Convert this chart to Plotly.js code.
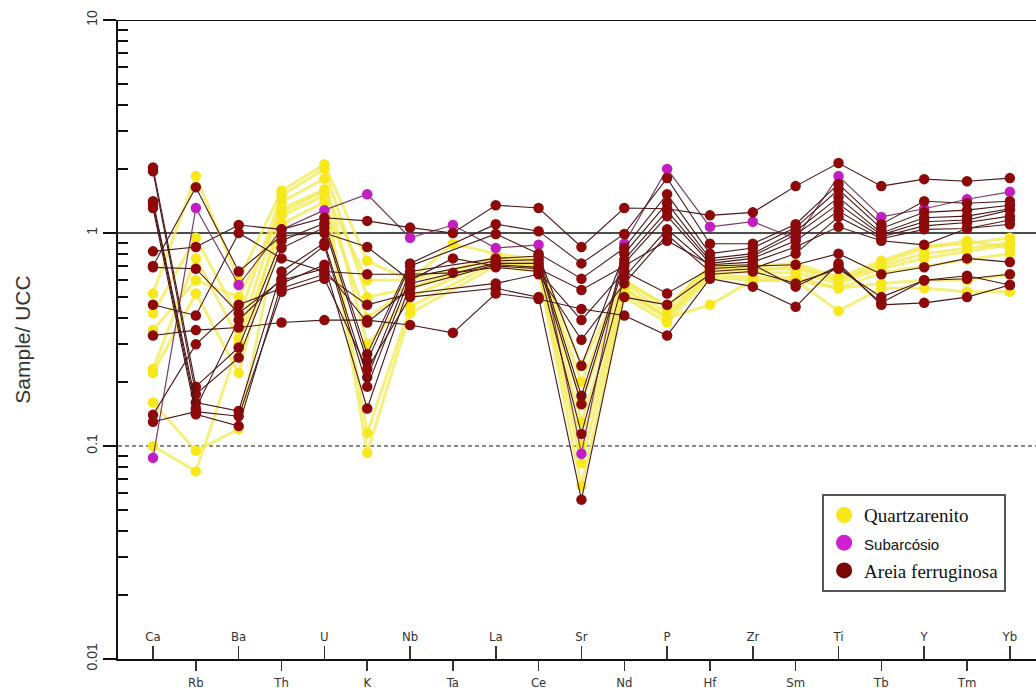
<!DOCTYPE html>
<html>
<head>
<meta charset="utf-8">
<script src="https://cdn.plot.ly/plotly-3.0.1.min.js"></script>
<style>html,body{margin:0;padding:0;background:#fff;}#chart{width:1036px;height:689px;}</style>
</head>
<body>
<div id="chart"></div>
<script>
// Elements (normalised to Upper Continental Crust)
const categories = ["Ca","Rb","Ba","Th","U","K","Nb","Ta","La","Ce","Sr","Nd","P","Hf","Zr","Sm","Ti","Tb","Y","Tm","Yb"];
const yTickValues = [0.01, 0.1, 1, 10];
const yTickLabels = ["0.01", "0.1", "1", "10"];

// Quartzarenito samples
const quartzarenito = [
  [0.52,1.85,0.60,1.58,2.10,0.74,0.60,0.89,0.80,0.75,0.24,0.60,0.45,0.70,0.70,0.72,0.62,0.74,0.87,0.89,0.95],
  [0.42,0.95,0.40,1.50,2.00,0.50,0.55,null,0.78,0.72,0.16,0.58,0.42,0.68,0.68,0.68,0.60,0.70,0.80,0.85,0.90],
  [0.23,0.76,0.32,1.40,1.80,0.30,0.50,null,0.75,0.70,0.10,0.55,0.40,0.66,0.65,0.65,0.58,0.68,0.76,0.82,0.88],
  [0.22,0.52,0.22,1.30,1.60,0.115,0.45,null,0.73,0.68,0.083,0.52,0.40,0.64,0.62,0.62,0.55,0.65,0.70,0.75,0.80],
  [0.16,0.095,0.12,1.20,1.50,0.093,0.42,null,0.70,0.66,0.065,0.50,0.38,0.62,0.60,0.60,0.55,0.58,0.60,0.60,0.64],
  [0.10,0.076,0.30,1.10,1.40,0.40,0.55,null,0.72,0.70,0.13,0.55,0.40,0.46,0.60,0.60,0.43,0.55,0.55,0.53,0.53],
  [0.35,0.60,0.50,1.25,1.57,0.60,0.60,null,0.76,0.73,0.20,0.60,0.45,0.70,0.66,0.70,0.60,0.72,0.85,0.92,0.85]
];

// Subarcósio sample
const subarcosio = [0.088,1.31,0.57,1.04,1.28,1.52,0.95,1.09,0.85,0.88,0.092,0.89,2.00,1.07,1.13,0.94,1.85,1.19,1.30,1.44,1.56];

// Areia ferruginosa samples
const areiaFerruginosa = [
  [0.82,0.86,1.09,1.04,1.18,1.14,1.06,1.00,1.35,1.31,0.86,1.31,1.30,1.21,1.25,1.66,2.13,1.66,1.79,1.75,1.81],
  [2.03,0.19,0.29,0.92,1.11,0.27,0.72,null,1.10,1.02,0.72,0.99,1.81,0.89,0.89,1.10,1.70,1.10,1.41,1.38,1.41],
  [1.95,0.175,0.26,0.85,1.06,0.25,0.70,null,0.99,0.80,0.61,0.85,1.52,0.80,0.85,1.06,1.60,1.05,1.25,1.28,1.35],
  [1.41,0.16,0.146,0.66,0.90,0.21,0.66,null,0.76,0.78,0.238,0.80,1.38,0.76,0.80,1.02,1.47,1.00,1.18,1.20,1.30],
  [1.37,0.15,0.39,0.61,0.87,0.19,0.62,null,0.74,0.75,0.172,0.75,1.27,0.74,0.78,0.98,1.37,0.98,1.13,1.15,1.28],
  [1.31,0.141,0.124,0.58,0.71,0.15,0.58,null,0.72,0.72,0.157,0.72,1.20,0.72,0.76,0.92,1.27,0.96,1.08,1.12,1.20],
  [0.33,0.35,0.36,0.38,0.39,0.39,0.37,0.34,0.52,0.49,0.44,0.41,0.33,0.61,0.56,0.45,0.72,0.46,0.47,0.50,0.57],
  [0.70,1.64,0.66,0.97,1.00,0.86,0.60,0.76,0.70,0.68,0.54,0.70,0.92,0.71,0.73,0.86,1.07,0.92,0.88,1.05,1.10],
  [0.46,0.41,1.00,0.76,0.66,0.64,0.64,0.65,0.69,0.66,0.39,0.66,0.52,0.68,0.70,0.71,0.80,0.64,0.69,0.76,0.73],
  [0.13,0.145,0.138,0.53,0.61,0.23,0.50,null,0.55,0.50,0.056,0.50,0.46,0.64,0.66,0.58,0.68,0.50,0.60,0.61,0.64],
  [0.14,0.30,0.46,0.55,0.64,0.46,0.52,null,0.58,0.64,0.315,0.58,0.98,0.66,0.68,0.80,1.19,0.94,1.04,1.05,1.15],
  [0.69,0.68,0.42,0.60,0.68,0.38,0.55,null,0.71,0.69,0.114,0.62,1.04,0.70,0.71,0.56,0.70,0.47,0.60,0.63,0.57]
];

const groupNames = ["Quartzarenito", "Subarcósio", "Areia ferruginosa"];

const xIdx = categories.map((c, i) => i);
const traces = [];

quartzarenito.forEach(s => traces.push({
  type: 'scatter', mode: 'lines+markers', x: xIdx, y: s, connectgaps: true, showlegend: false,
  line: {color: 'rgba(242,234,80,0.75)', width: 3},
  marker: {color: '#f7e81c', size: 10.5},
  hoverinfo: 'y'
}));

traces.push({
  type: 'scatter', mode: 'lines+markers', x: xIdx, y: subarcosio, connectgaps: true, showlegend: false,
  line: {color: '#7a3d66', width: 1.2},
  marker: {color: '#c21fc2', size: 10.5},
  hoverinfo: 'y'
});

areiaFerruginosa.forEach(s => traces.push({
  type: 'scatter', mode: 'lines+markers', x: xIdx, y: s, connectgaps: true, showlegend: false,
  line: {color: '#4a1616', width: 1.1},
  marker: {color: '#8e0a0a', size: 10.5},
  hoverinfo: 'y'
}));

// legend entries
const legendColors = ['#f7e81c', '#d21ed2', '#7a0606'];
const legendLabels = [
  '<span style="font-family:Liberation Serif;font-size:19px">' + groupNames[0] + '</span>',
  '<span style="font-family:Liberation Sans;font-size:15px">' + groupNames[1] + '</span>',
  '<span style="font-family:Liberation Serif;font-size:19px">' + groupNames[2] + '</span>'
];
legendColors.forEach((c, i) => traces.push({
  type: 'scatter', mode: 'markers', x: [null], y: [null], xaxis: 'x2', yaxis: 'y',
  name: legendLabels[i], showlegend: true,
  marker: {color: c, size: 17}
}));

const oddIdx = xIdx.filter(i => i % 2 === 0);
const evenIdx = xIdx.filter(i => i % 2 === 1);
const xRange = [-0.817, 20.61];
const axisFont = {family: 'Liberation Sans Narrow, DejaVu Sans Condensed, Arial Narrow, sans-serif', size: 13, color: '#333'};

const minorVals = [];
[0.01, 0.1, 1].forEach(d => { for (let k = 2; k <= 9; k++) minorVals.push(+(d * k).toPrecision(3)); });

const layout = {
  width: 1036, height: 689,
  margin: {l: 118, r: 0, t: 20, b: 30},
  paper_bgcolor: '#fff', plot_bgcolor: '#fff',
  showlegend: true,
  xaxis: {
    range: xRange, showgrid: false, zeroline: false,
    showline: true, linecolor: '#111', linewidth: 2,
    tickmode: 'array', tickvals: evenIdx, ticktext: evenIdx.map(i => categories[i]),
    ticks: 'outside', ticklen: 10, tickwidth: 1.5, tickcolor: '#333',
    tickfont: axisFont
  },
  xaxis2: {
    range: xRange, overlaying: 'x', anchor: 'free', position: 0, side: 'top',
    showgrid: false, zeroline: false, showline: false,
    tickmode: 'array', tickvals: oddIdx, ticktext: oddIdx.map(i => categories[i]),
    ticks: 'outside', ticklen: 13, tickwidth: 1.5, tickcolor: '#333',
    tickfont: axisFont
  },
  yaxis: {
    type: 'log', range: [-2, 1], showgrid: false, zeroline: false,
    showline: true, linecolor: '#111', linewidth: 2,
    tickmode: 'array', tickvals: yTickValues, ticktext: yTickLabels,
    ticks: 'outside', ticklen: 13, tickwidth: 2, tickcolor: '#111',
    tickangle: -90, tickfont: {family: 'Liberation Sans, Arial, sans-serif', size: 14, color: '#333'},
    minor: {ticks: 'inside', ticklen: 10, tickwidth: 2, tickcolor: '#111', tickmode: 'array', tickvals: minorVals, showgrid: false},
    title: {text: 'Sample/ UCC', font: {family: 'Liberation Sans, Arial, sans-serif', size: 21, color: '#333'}, standoff: 48}
  },
  shapes: [
    {type: 'line', xref: 'paper', yref: 'y', x0: 0, x1: 1, y0: 10, y1: 10, line: {color: '#111', width: 2}, layer: 'below'},
    {type: 'line', xref: 'paper', yref: 'y', x0: 0, x1: 1, y0: 1, y1: 1, line: {color: '#111', width: 1.5}, layer: 'below'},
    {type: 'line', xref: 'paper', yref: 'y', x0: 0, x1: 1, y0: 0.1, y1: 0.1, line: {color: '#111', width: 1.2, dash: '4px,3px'}, layer: 'below'}
  ],
  legend: {
    x: 0.767, y: 0.258, xanchor: 'left', yanchor: 'top',
    bgcolor: '#fff', bordercolor: '#555', borderwidth: 2,
    font: {family: 'Liberation Serif, Times New Roman, serif', size: 19, color: '#111'},
    itemwidth: 30, tracegroupgap: 0
  }
};

Plotly.newPlot('chart', traces, layout, {staticPlot: true, displayModeBar: false});
</script>
</body>
</html>
